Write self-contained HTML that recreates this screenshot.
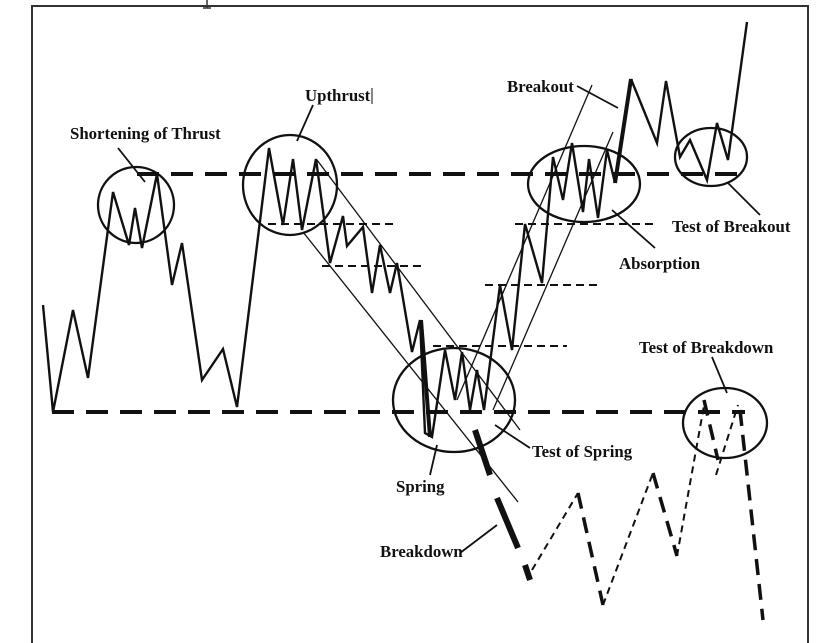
<!DOCTYPE html>
<html><head><meta charset="utf-8"><style>
html,body{margin:0;padding:0;background:#fff;}
svg{display:block;}
text{font-family:"Liberation Serif",serif;font-weight:bold;font-size:16.8px;fill:#111;}
</style></head><body>
<svg width="828" height="643" viewBox="0 0 828 643" xmlns="http://www.w3.org/2000/svg">
<g stroke="#333" stroke-width="2" fill="none">
<path d="M32 643 V6 H808 V643"/>
<path d="M207 0 V8 M203 8 H211" stroke-width="1.5"/>
</g>
<g stroke="#111" fill="none" stroke-linecap="butt">
<path d="M137 174 H745" stroke-width="4" stroke-dasharray="22 12"/>
<path d="M52 412 H745" stroke-width="4" stroke-dasharray="22 12"/>
<g stroke-width="2" stroke-dasharray="8 5">
<path d="M268 224 H395"/><path d="M322 266 H422"/><path d="M515 224 H655"/><path d="M485 285 H597"/><path d="M433 346 H567"/>
</g>
<g stroke-width="1.3">
<path d="M317 160 L520 430"/><path d="M303 232 L518 502"/>
<path d="M457 400 L592 85"/><path d="M493 410 L613 132"/>
</g>
<path stroke-width="2.4" stroke-linejoin="miter" d="M43 305 L53 412 L73 310 L88 378 L113 192 L129 245 L135 208 L142 248 L157 174 L172 285 L182 243 L202 380 L223 349 L237 407 L269 148 L283 225 L293 159 L302 230 L316 159 L330 263 L343 216 L347 246 L363 227 L372 293 L380 245 L390 293 L397 263 L412 352 L420 320 L425 433 L432 437 L445 350 L455 400 L462 352 L470 410 L477 370 L484 410 L500 285 L512 350 L525 224 L542 283 L553 157 L563 200 L572 143 L583 212 L589 159 L598 218 L607 150 L615 183"/>
<path stroke-width="4" d="M421 320 L430 437 M615 183 L631 79"/>
<path stroke-width="2.4" d="M631 79 L657 143 L666 81 L680 157 L690 140 L707 180 L717 123 L728 160 L747 22"/>
<g stroke-width="2.3">
<ellipse cx="136" cy="205" rx="38" ry="38"/>
<ellipse cx="290" cy="185" rx="47" ry="50"/>
<ellipse cx="454" cy="400" rx="61" ry="52"/>
<ellipse cx="584" cy="184" rx="56" ry="38"/>
<ellipse cx="711" cy="157" rx="36" ry="29"/>
<ellipse cx="725" cy="423" rx="42" ry="35"/>
</g>
<path stroke-width="6" d="M475 430 L490 475 M497 498 L518 548 M525 565 L530 580"/>
<path stroke-width="2" stroke-dasharray="7 5" d="M532 570 L578 493 M603 605 L653 473 M677 556 L705 400 M716 475 L738 405"/>
<path stroke-width="3.5" stroke-dasharray="16 9" d="M578 493 L603 605 M653 473 L677 556 M704 400 L718 460 M740 410 L763 620"/>
<g stroke-width="1.8">
<path d="M118 148 L145 182"/><path d="M313 105 L297 141"/><path d="M577 86 L618 108"/>
<path d="M728 183 L760 215"/><path d="M612 210 L655 248"/><path d="M712 357 L727 393"/>
<path d="M495 425 L530 448"/><path d="M437 445 L430 475"/><path d="M460 553 L497 525"/>
</g>
</g>
<text x="70" y="139">Shortening of Thrust</text>
<text x="305" y="101">Upthrust</text>
<line x1="372" y1="88" x2="372" y2="104" stroke="#111" stroke-width="1"/>
<text x="507" y="92">Breakout</text>
<text x="672" y="232">Test of Breakout</text>
<text x="619" y="269">Absorption</text>
<text x="639" y="353">Test of Breakdown</text>
<text x="532" y="457">Test of Spring</text>
<text x="396" y="492">Spring</text>
<text x="380" y="557">Breakdown</text>
</svg>
</body></html>
